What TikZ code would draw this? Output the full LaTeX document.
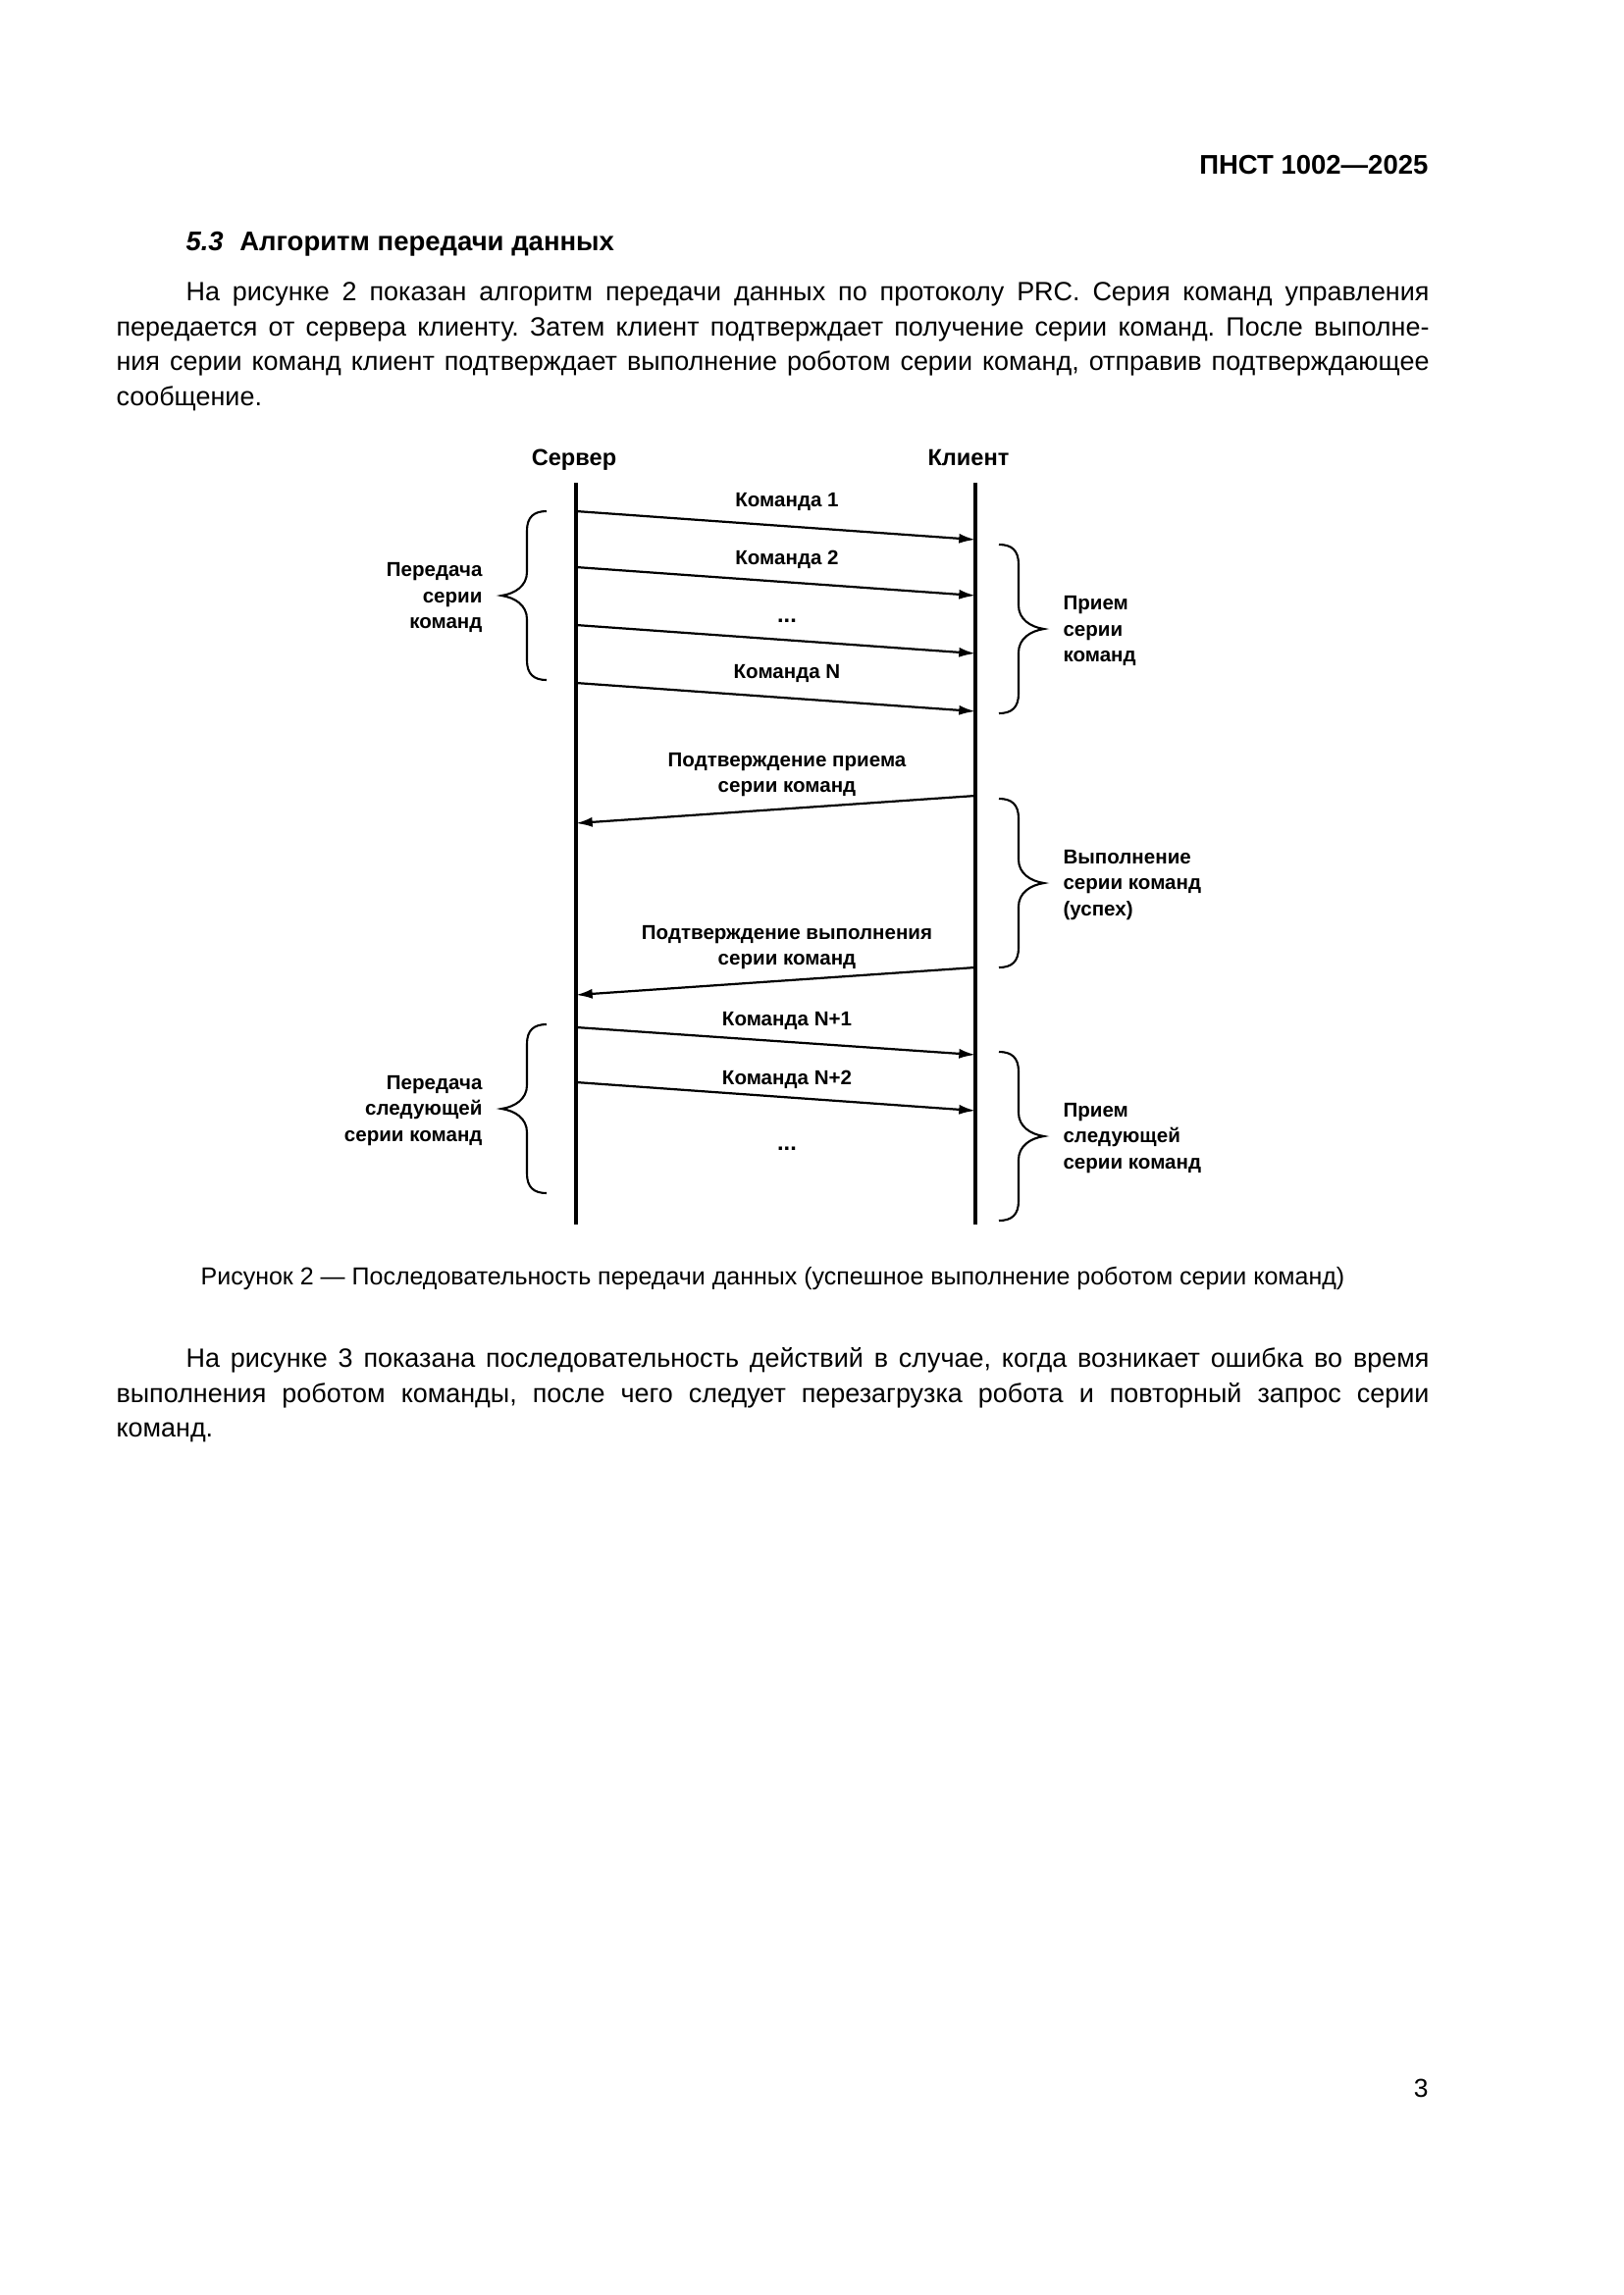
\documentclass[tikz,border=0pt]{standalone}
\usepackage{fontspec}
\setmainfont{Liberation Sans}
\usetikzlibrary{arrows.meta}
\frenchspacing
\begin{document}
\begin{tikzpicture}[x=0.36pt,y=-0.36pt,
  life/.style={line width=1.4pt},
  msg/.style={line width=0.8pt,-{Latex[length=6pt,width=3.6pt]}},
  brc/.style={line width=0.75pt},
  lbl/.style={font=\fontsize{7.4}{9.5}\selectfont\bfseries,inner sep=0pt},
  body/.style={font=\fontsize{9.7}{12.85}\selectfont,inner sep=0pt,anchor=base west},
  captxt/.style={font=\fontsize{9}{11}\selectfont,inner sep=0pt,anchor=base},
  pics/cbrace/.style={code={\draw[brc] (0,0) .. controls (-13,0) and (-20,6) .. (-20,20) -- (-20,62) .. controls (-20,76) and (-32,84) .. (-46,86) .. controls (-32,88) and (-20,96) .. (-20,110) -- (-20,152) .. controls (-20,166) and (-13,172) .. (0,172);}}
]
\useasboundingbox (0,0) rectangle (1654,2339);
\fill[white] (0,0) rectangle (1654,2339);

% page header and text
\node[font=\fontsize{9.9}{12}\selectfont\bfseries,inner sep=0pt,anchor=base east] (hdr) at (1456,177) {ПНСТ 1002—2025};
\node[font=\fontsize{9.9}{12}\selectfont\bfseries,inner sep=0pt,anchor=base west] (sec) at (189,255) {\textit{5.3}\hspace{0.6em}Алгоритм передачи данных};
\node[body] (p1) at (189,306.5) {\makebox[456.12pt][s]{На рисунке 2 показан алгоритм передачи данных по протоколу PRC. Серия команд управления}};
\node[body] (p2) at (118,342.2) {\makebox[481.68pt][s]{передается от сервера клиенту. Затем клиент подтверждает получение серии команд. После выполне-}};
\node[body] (p3) at (118,377.9) {\makebox[481.68pt][s]{ния серии команд клиент подтверждает выполнение роботом серии команд, отправив подтверждающее}};
\node[body] (p4) at (118,413.6) {сообщение.};

% lifelines
\node[lbl,font=\fontsize{8.5}{10}\selectfont\bfseries,anchor=base] (srv) at (585,474) {Сервер};
\node[lbl,font=\fontsize{8.5}{10}\selectfont\bfseries,anchor=base] (cli) at (987,474) {Клиент};
\coordinate (st) at (587,492); \coordinate (sb) at (587,1248);
\coordinate (ct) at (994,492); \coordinate (cb) at (994,1248);
\draw[life] (st) -- (sb);
\draw[life] (ct) -- (cb);

% message end points
\coordinate (s1) at (587,521);  \coordinate (c1) at (994,550);
\coordinate (s2) at (587,578);  \coordinate (c2) at (994,607);
\coordinate (s3) at (587,637);  \coordinate (c3) at (994,666);
\coordinate (s4) at (587,696);  \coordinate (c4) at (994,725);
\coordinate (c5) at (994,811);  \coordinate (s5) at (587,839);
\coordinate (c6) at (994,986);  \coordinate (s6) at (587,1014);
\coordinate (s7) at (587,1047); \coordinate (c7) at (994,1075);
\coordinate (s8) at (587,1103); \coordinate (c8) at (994,1132);

\draw[msg] (s1) -- (c1);
\draw[msg] (s2) -- (c2);
\draw[msg] (s3) -- (c3);
\draw[msg] (s4) -- (c4);
\draw[msg] (c5) -- (s5);
\draw[msg] (c6) -- (s6);
\draw[msg] (s7) -- (c7);
\draw[msg] (s8) -- (c8);

% message labels
\node[lbl,anchor=base] (m1) at (802,516) {Команда 1};
\node[lbl,anchor=base] (m2) at (802,575) {Команда 2};
\node[lbl,anchor=base,font=\fontsize{8.5}{10}\selectfont\bfseries] (m3) at (802,634) {...};
\node[lbl,anchor=base] (m4) at (802,691) {Команда N};
\node[lbl,anchor=base] (m5a) at (802,781) {Подтверждение приема};
\node[lbl,anchor=base] (m5b) at (802,807) {серии команд};
\node[lbl,anchor=base] (m6a) at (802,957) {Подтверждение выполнения};
\node[lbl,anchor=base] (m6b) at (802,983) {серии команд};
\node[lbl,anchor=base] (m7) at (802,1045) {Команда N+1};
\node[lbl,anchor=base] (m8) at (802,1105) {Команда N+2};
\node[lbl,anchor=base,font=\fontsize{8.5}{10}\selectfont\bfseries] (m9) at (802,1172) {...};

% braces
\pic (b1) at (557,521) {cbrace};
\pic[xscale=-1] (b2) at (1018,555) {cbrace};
\pic[xscale=-1] (b3) at (1018,814) {cbrace};
\pic (b4) at (557,1044) {cbrace};
\pic[xscale=-1] (b5) at (1018,1072) {cbrace};

% brace labels
\node[lbl,anchor=east,align=right] (l1) at (492,609) {Передача\\серии\\команд};
\node[lbl,anchor=west,align=left] (r1) at (1083,643) {Прием\\серии\\команд};
\node[lbl,anchor=west,align=left] (r2) at (1083,902) {Выполнение\\серии команд\\(успех)};
\node[lbl,anchor=east,align=right] (l2) at (492,1132) {Передача\\следующей\\серии команд};
\node[lbl,anchor=west,align=left] (r3) at (1083,1160) {Прием\\следующей\\серии команд};

% caption
\node[captxt] (capt) at (787.5,1309) {Рисунок 2 — Последовательность передачи данных (успешное выполнение роботом серии команд)};

% lower paragraph
\node[body] (q1) at (189,1393) {\makebox[456.12pt][s]{На рисунке 3 показана последовательность действий в случае, когда возникает ошибка во время}};
\node[body] (q2) at (118,1429) {\makebox[481.68pt][s]{выполнения роботом команды, после чего следует перезагрузка робота и повторный запрос серии}};
\node[body] (q3) at (118,1464) {команд.};

% page number
\node[font=\fontsize{9.5}{11}\selectfont,inner sep=0pt,anchor=base east] (pg) at (1456,2137) {3};
\end{tikzpicture}
\end{document}
